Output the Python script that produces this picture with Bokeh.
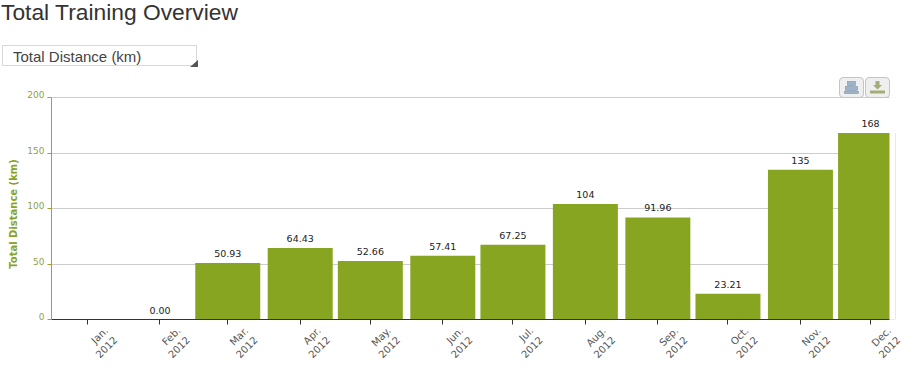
from datetime import datetime
from bokeh.embed import file_html
from bokeh.resources import INLINE
from bokeh.layouts import column
from bokeh.models import ColumnDataSource, FixedTicker, Range1d, Div, LinearAxis, DatetimeAxis, BoxAnnotation
from bokeh.plotting import figure
from bokeh.core.properties import value

months = ["Jan.", "Feb.", "Mar.", "Apr.", "May.", "Jun.", "Jul.", "Aug.", "Sep.", "Oct.", "Nov.", "Dec."]
dates = [datetime(2012, m, 1) for m in range(1, 13)]
distance = [0, 0, 50.93, 64.43, 52.66, 57.41, 67.25, 104, 91.96, 23.21, 135, 168]
bar_labels = ["", "0.00", "50.93", "64.43", "52.66", "57.41", "67.25", "104", "91.96", "23.21", "135", "168"]
y_ticks = [0, 50, 100, 150, 200]
title_text = "Total Training Overview"
select_text = "Total Distance (km)"
y_title = "Total Distance (km)"

GREEN = "#87a521"
AXIS_OLIVE = "#a3a32a"
DAY = 86400000.0
ms = [d.timestamp() * 1000 for d in dates]
HEAD = 85
x_start = ms[0] - 15.4 * DAY
x_end = ms[11] + 8.1 * DAY
LABEL_SHIFT = 10 * DAY
y_shift = 3 * 200 / 222

src = ColumnDataSource(dict(x=dates, top=distance, label=bar_labels))

p = figure(frame_width=844, frame_height=225, x_axis_type="datetime", output_backend="svg",
           toolbar_location=None, x_axis_location=None, y_axis_location=None,
           x_range=Range1d(x_start, ms[11] + 10.67 * DAY), y_range=Range1d(0, 200 + y_shift),
           min_border_left=51, min_border_right=9, min_border_top=97 - 3 - HEAD, min_border_bottom=53,
           outline_line_color=None, margin=0)

p.vbar(x="x", top="top", width=27.8 * DAY, source=src, color=GREEN, line_color=None)
p.text(x="x", y="top", text="label", source=src, text_align="center", text_baseline="bottom",
       y_offset=-6, text_font=value("DejaVu Sans"), text_font_size="9.5px", text_color="#222222")
# the plot area ends at x_end: the last bar and the grid lines stop there
p.add_layout(BoxAnnotation(left=x_end, fill_color="white", fill_alpha=1, line_color=None))

p.xgrid.visible = False
p.ygrid.grid_line_color = "#cccccc"
p.ygrid.ticker = FixedTicker(ticks=y_ticks)

# x axis: line and ticks at the real months
xa = DatetimeAxis(ticker=FixedTicker(ticks=[], minor_ticks=ms), bounds=(x_start, x_end),
                  axis_line_color="#333333", minor_tick_line_color="#333333",
                  minor_tick_out=5, minor_tick_in=0, major_label_standoff=0)
p.add_layout(xa, "below")
# x tick labels, carried by a line-less axis so that they sit to the right of the ticks
xl_ticks = [t + LABEL_SHIFT for t in ms]
xl = DatetimeAxis(ticker=FixedTicker(ticks=xl_ticks), axis_line_color=None, major_tick_line_color=None,
                  minor_tick_line_color=None, major_tick_out=0, major_tick_in=0,
                  major_label_overrides={t: f"{m}\n2012" for t, m in zip(xl_ticks, months)},
                  major_label_orientation=0.785, major_label_standoff=9,
                  major_label_text_font="DejaVu Sans", major_label_text_font_size="10px",
                  major_label_text_color="#555555")
p.add_layout(xl, "below")

# y axis: line and ticks
ya = LinearAxis(ticker=FixedTicker(ticks=[], minor_ticks=y_ticks), bounds=(0, 200), axis_line_color=AXIS_OLIVE,
                minor_tick_line_color=AXIS_OLIVE, minor_tick_out=4, minor_tick_in=0, major_label_standoff=0)
p.add_layout(ya, "left")
# y tick labels sit a little above their ticks
yl_ticks = [t + y_shift for t in y_ticks]
yl = LinearAxis(ticker=FixedTicker(ticks=yl_ticks), axis_line_color=None, major_tick_line_color=None,
                minor_tick_line_color=None, major_tick_out=0, major_tick_in=0,
                major_label_overrides={a: str(b) for a, b in zip(yl_ticks, y_ticks)},
                major_label_standoff=3, major_label_text_font="DejaVu Sans", major_label_text_font_size="9px",
                major_label_text_color="#8f9f45")
p.add_layout(yl, "left")
# y axis title, centred a little below the middle of the axis as in the reference
yt = LinearAxis(ticker=FixedTicker(ticks=[]), axis_line_color=None, major_tick_line_color=None,
                minor_tick_line_color=None, major_label_standoff=0,
                major_tick_out=0, major_tick_in=0, axis_label=y_title + "\u00a0" * 4, axis_label_standoff=6,
                axis_label_text_font="DejaVu Sans", axis_label_text_font_size="10px",
                axis_label_text_font_style="bold", axis_label_text_color=GREEN)
p.add_layout(yt, "left")

BOX = ('position:absolute;left:{left}px;top:77px;width:23px;height:19px;border:1px solid #c4c4c4;'
       'border-radius:4px;background:#efefef;box-sizing:content-box')
print_icon = (f'<div style="{BOX.format(left=839)}"><svg width="23" height="19" style="position:absolute;left:0;top:0">'
              '<g fill="#9db4c8" stroke="#7f95a8" stroke-width="0.6"><rect x="7.5" y="3.5" width="8" height="4"/>'
              '<rect x="5.5" y="8.5" width="12" height="4"/><rect x="4.5" y="13.5" width="14" height="2"/></g></svg></div>')
save_icon = (f'<div style="{BOX.format(left=865)}"><svg width="23" height="19" style="position:absolute;left:0;top:0">'
             '<g fill="#a3ad7a"><polygon points="9.5,3 13.5,3 13.5,7 16,7 11.5,11.5 7,7 9.5,7"/>'
             '<rect x="4" y="12.5" width="15" height="3"/></g></svg></div>')
html = (f'<div style="position:absolute;left:1px;top:0;font:22.8px/24px \'Liberation Sans\';color:#333;white-space:nowrap">{title_text}</div>'
        f'<div style="position:absolute;left:2px;top:45px;width:195px;height:21px;border:1px solid #d8d8d8;background:#fff">'
        f'<div style="position:absolute;left:10px;top:2px;font:15px \'Liberation Sans\';color:#444;white-space:nowrap">{select_text}</div>'
        f'<svg style="position:absolute;left:187px;top:14px" width="8" height="7"><polygon points="0,7 8,0 8,7" fill="#555"/></svg></div>'
        + print_icon + save_icon)

head = Div(text=html, width=904, height=HEAD, margin=0, styles={"overflow": "visible", "z-index": "5"})
page = column(head, p, spacing=0, margin=0)
open("out.html", "w").write(file_html(page, INLINE))
